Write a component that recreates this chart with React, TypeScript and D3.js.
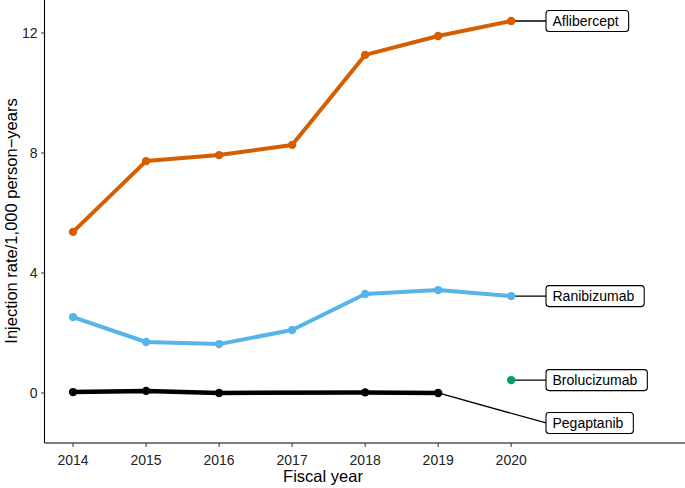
import React from "react";
import * as d3 from "d3";

const years = [2014, 2015, 2016, 2017, 2018, 2019, 2020];
const aflibercept = [5.37, 7.73, 7.93, 8.27, 11.27, 11.9, 12.4];
const ranibizumab = [2.53, 1.7, 1.63, 2.1, 3.3, 3.43, 3.23];
const pegaptanibYears = [2014, 2015, 2016, 2018, 2019];
const pegaptanib = [0.03, 0.07, 0.0, 0.02, 0.0];
const brolucizumabYears = [2020];
const brolucizumab = [0.43];
const yTicks = [0, 4, 8, 12];
const labelNames = ["Aflibercept", "Ranibizumab", "Brolucizumab", "Pegaptanib"];
const labelYValues = [12.4, 3.23, 0.43, -1.0];

const W = 685;
const H = 488;

export default function App() {
  const x = d3.scaleLinear().domain([2013.616, 2022.38]).range([45, 685]);
  const y = d3.scaleLinear().domain([-1.667, 13.1]).range([443, 0]);

  const series = [
    { name: "Aflibercept", xs: years, ys: aflibercept, color: "#D55E00", w: 4, r: 4.2 },
    { name: "Ranibizumab", xs: years, ys: ranibizumab, color: "#56B4E9", w: 4, r: 4.2 },
    { name: "Pegaptanib", xs: pegaptanibYears, ys: pegaptanib, color: "#000000", w: 4.5, r: 4.2 },
    { name: "Brolucizumab", xs: brolucizumabYears, ys: brolucizumab, color: "#009E73", w: 4, r: 4.2 },
  ];

  const line = d3
    .line<[number, number]>()
    .x((d) => x(d[0]))
    .y((d) => y(d[1]));

  const boxX = 546;
  const fontLabel = 14;

  return (
    <svg width={W} height={H} style={{ position: "absolute", left: 0, top: 0, fontFamily: "'Liberation Sans', Arial, sans-serif" }}>
      {/* axes */}
      <line x1={44.5} x2={685} y1={443} y2={443} stroke="#000" strokeWidth={1.1} />
      <line x1={44.5} x2={44.5} y1={0} y2={443} stroke="#000" strokeWidth={1.1} />
      {yTicks.map((t) => (
        <g key={t}>
          <line x1={41} x2={44.5} y1={y(t)} y2={y(t)} stroke="#333" strokeWidth={1} />
          <text x={37.5} y={y(t)} dy="0.36em" textAnchor="end" fontSize={14} fill="#222">
            {t}
          </text>
        </g>
      ))}
      {years.map((t) => (
        <g key={t}>
          <line x1={x(t)} x2={x(t)} y1={443} y2={447} stroke="#333" strokeWidth={1} />
          <text x={x(t)} y={464.5} textAnchor="middle" fontSize={14} fill="#222">
            {t}
          </text>
        </g>
      ))}
      <text x={323} y={482} textAnchor="middle" fontSize={16.5} fill="#000">
        Fiscal year
      </text>
      <text
        transform={`translate(17, ${221}) rotate(-90)`}
        textAnchor="middle"
        fontSize={16.5}
        fill="#000"
      >
        Injection rate/1,000 person−years
      </text>

      {/* connectors */}
      {labelNames.map((n, i) => {
        const s = series.find((d) => d.name === n)!;
        const lx = s.xs[s.xs.length - 1];
        const ly = s.ys[s.ys.length - 1];
        return (
          <line
            key={"c" + n}
            x1={x(lx)}
            y1={y(ly)}
            x2={boxX}
            y2={y(labelYValues[i])}
            stroke="#000"
            strokeWidth={1.3}
          />
        );
      })}

      {/* series */}
      {series.map((s) => {
        const pts: [number, number][] = s.xs.map((v, i) => [v, s.ys[i]]);
        return (
          <g key={s.name}>
            {pts.length > 1 && (
              <path d={line(pts) || ""} fill="none" stroke={s.color} strokeWidth={s.w} strokeLinejoin="round" />
            )}
            {pts.map((p, i) => (
              <circle key={i} cx={x(p[0])} cy={y(p[1])} r={s.r} fill={s.color} />
            ))}
          </g>
        );
      })}

      {/* labels */}
      {labelNames.map((n, i) => {
        const cy = y(labelYValues[i]);
        return (
          <LabelBox key={"l" + n} x={boxX} cy={cy} text={n} fontSize={fontLabel} />
        );
      })}
    </svg>
  );
}

function LabelBox({ x, cy, text, fontSize }: { x: number; cy: number; text: string; fontSize: number }) {
  const ref = React.useRef<SVGTextElement>(null);
  const [w, setW] = React.useState(0);
  React.useLayoutEffect(() => {
    if (ref.current) setW(ref.current.getComputedTextLength());
  }, [text, fontSize]);
  const padL = 6.5;
  const padR = 10;
  return (
    <g>
      <rect
        x={x}
        y={cy - 10.5}
        width={w + padL + padR}
        height={21}
        rx={3}
        ry={3}
        fill="#fff"
        stroke="#000"
        strokeWidth={1.1}
      />
      <text ref={ref} x={x + padL} y={cy} dy="0.36em" fontSize={fontSize} fill="#000">
        {text}
      </text>
    </g>
  );
}
